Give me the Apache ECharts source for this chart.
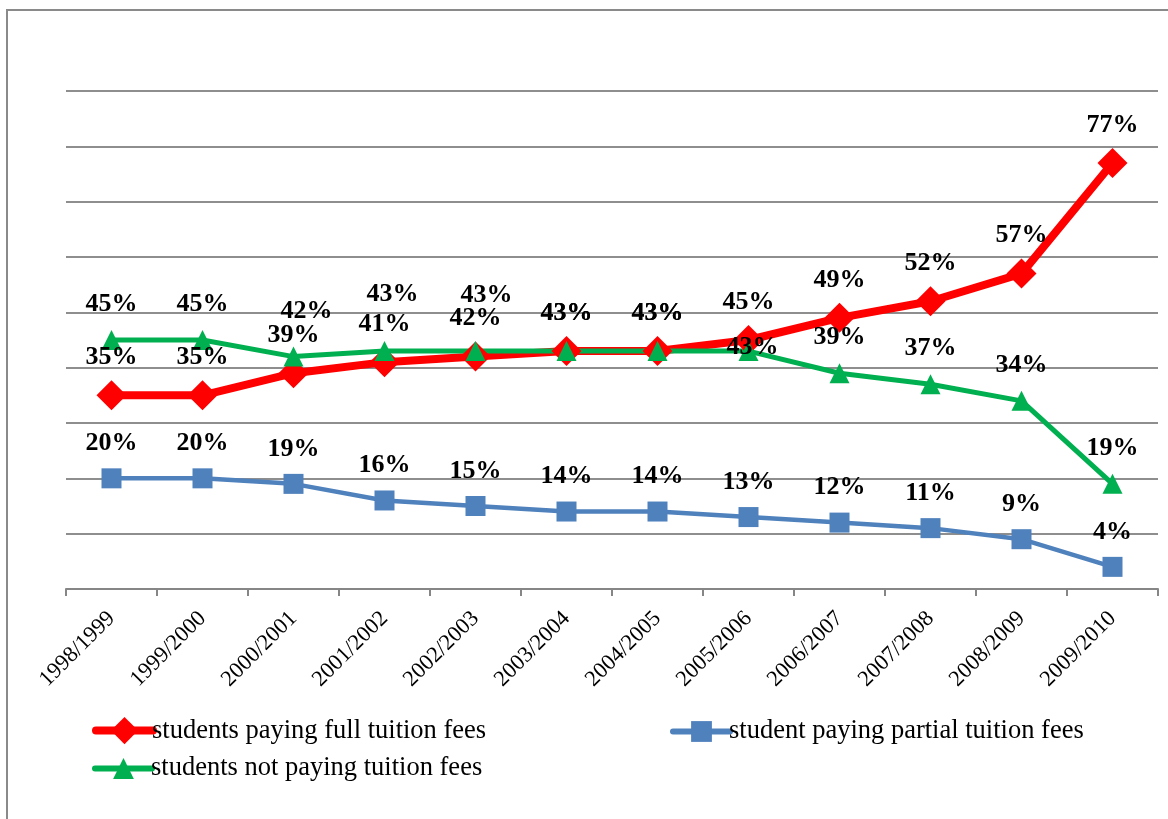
<!DOCTYPE html>
<html>
<head>
<meta charset="utf-8">
<script src="https://cdn.jsdelivr.net/npm/echarts@6/dist/echarts.min.js"></script>
<style>
  html, body { margin: 0; padding: 0; background: #fff; }
  #chart { width: 1168px; height: 819px; }
</style>
</head>
<body>
<div id="chart"></div>
<script>
const categories = [
  '1998/1999', '1999/2000', '2000/2001', '2001/2002', '2002/2003', '2003/2004',
  '2004/2005', '2005/2006', '2006/2007', '2007/2008', '2008/2009', '2009/2010',
]
const fullFees = [35, 35, 39, 41, 42, 43, 43, 45, 49, 52, 57, 77]
const partialFees = [20, 20, 19, 16, 15, 14, 14, 13, 12, 11, 9, 4]
const noFees = [45, 45, 42, 43, 43, 43, 43, 43, 39, 37, 34, 19]

const names = [
  'students paying full tuition fees',
  'student paying partial tuition fees',
  'students not paying tuition fees',
]

const font = 'Liberation Serif, Times New Roman, serif'

// labels sit above the points, a few were nudged in the original
const greenNudge = { 2: [13, -45], 3: [8, -57], 4: [11, -56], 5: [0, -38], 6: [0, -38], 7: [4, -4] }

function withLabels(values, dy, nudge) {
  return values.map((v, i) => {
    const off = (nudge && nudge[i]) || [0, dy]
    return { value: v, label: { offset: off } }
  })
}

function lineSeries(name, values, color, width, symbol, size, dy, nudge) {
  return {
    name,
    type: 'line',
    data: withLabels(values, dy, nudge),
    symbol,
    symbolSize: size,
    showAllSymbol: true,
    lineStyle: { color, width },
    itemStyle: { color },
    label: {
      show: true,
      position: 'inside',
      formatter: '{c}%',
      color: '#000',
      fontFamily: font,
      fontWeight: 'bold',
      fontSize: 26,
    },
  }
}

function legendAt(name, left, top, lineWidth, iconH) {
  return {
    data: [name],
    left,
    top,
    padding: 0,
    itemWidth: 57,
    itemHeight: iconH,
    itemGap: 0,
    selectedMode: false,
    lineStyle: { width: lineWidth, cap: 'round' },
    textStyle: { color: '#000', fontFamily: font, fontSize: 26.5, padding: [0, 0, 0, -6] },
  }
}

const chart = echarts.init(document.getElementById('chart'))
chart.setOption({
  animation: false,
  backgroundColor: '#fff',
  graphic: [{
    type: 'rect',
    shape: { x: 7, y: 10, width: 1300, height: 900 },
    style: { fill: 'none', stroke: '#8a8a8a', lineWidth: 2 },
    silent: true,
  }],
  grid: { left: 66, right: 10, top: 91, bottom: 230 },
  legend: [
    legendAt(names[0], 92, 717, 8, 34),
    legendAt(names[1], 670, 718, 6, 26),
    legendAt(names[2], 92, 755, 6, 26),
  ],
  xAxis: {
    type: 'category',
    data: categories,
    boundaryGap: true,
    axisLine: { lineStyle: { color: '#868686', width: 2 } },
    axisTick: { show: true, length: 7, lineStyle: { color: '#868686', width: 2 } },
    axisLabel: {
      rotate: 45,
      margin: 26,
      interval: 0,
      color: '#000',
      fontFamily: font,
      fontSize: 22.5,
    },
  },
  yAxis: {
    type: 'value',
    min: 0,
    max: 90,
    interval: 10,
    axisLabel: { show: false },
    axisLine: { show: false },
    axisTick: { show: false },
    splitLine: { lineStyle: { color: '#8e8e8e', width: 2 } },
  },
  series: [
    lineSeries(names[0], fullFees, '#ff0000', 8, 'diamond', 30, -38),
    lineSeries(names[1], partialFees, '#4f81bd', 4.5, 'rect', 20, -35),
    lineSeries(names[2], noFees, '#00b050', 5, 'triangle', 20, -36, greenNudge),
  ],
})
</script>
</body>
</html>
